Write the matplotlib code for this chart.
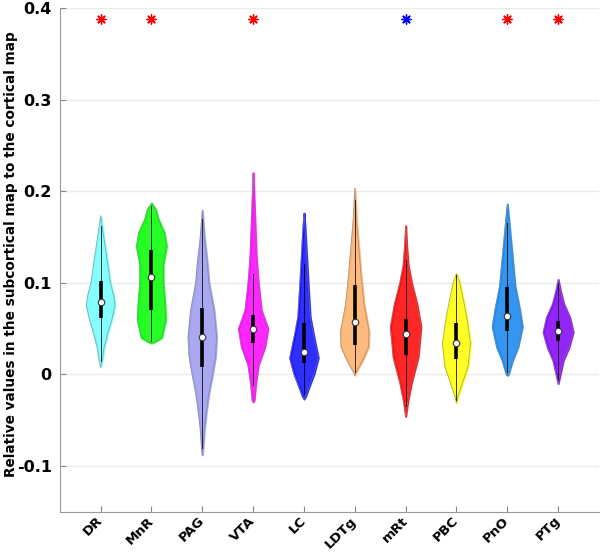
import matplotlib.pyplot as plt
import matplotlib.transforms as mtransforms
import numpy as np

# regions
names = ["DR", "MnR", "PAG", "VTA", "LC", "LDTg", "mRt", "PBC", "PnO", "PTg"]
colors = ["#70ffff", "#00ff00", "#9a9af0", "#ff00ff", "#0a0aff",
          "#ffb066", "#ff0000", "#ffff00", "#0f85f0", "#8000f5"]

# box stats
medians = [0.0785, 0.1065, 0.041, 0.0494, 0.0247, 0.0575, 0.0436, 0.0345, 0.064, 0.047]
q1 = [0.061, 0.070, 0.0076, 0.0345, 0.012, 0.032, 0.021, 0.0163, 0.047, 0.0366]
q3 = [0.102, 0.1355, 0.0727, 0.065, 0.056, 0.097, 0.060, 0.0556, 0.0955, 0.058]
wlo = [0.015, 0.036, -0.080, -0.012, -0.022, 0.002, -0.035, -0.028, 0.002, -0.006]
whi = [0.162, 0.184, 0.170, 0.110, 0.120, 0.190, 0.125, 0.108, 0.165, 0.100]

# violin outlines: value levels and half widths (x units)
dr_y = [0.008, 0.015, 0.03, 0.045, 0.06, 0.075, 0.085, 0.10, 0.12, 0.15, 0.173]
dr_w = [0.0, 0.03, 0.07, 0.14, 0.22, 0.28, 0.26, 0.19, 0.14, 0.06, 0.0]
mnr_y = [0.034, 0.036, 0.04, 0.06, 0.08, 0.10, 0.12, 0.14, 0.155, 0.17, 0.18, 0.187]
mnr_w = [0.0, 0.08, 0.2, 0.28, 0.26, 0.23, 0.23, 0.295, 0.25, 0.13, 0.08, 0.0]
pag_y = [-0.088, -0.08, -0.06, -0.04, -0.02, 0.0, 0.02, 0.041, 0.07, 0.10, 0.12, 0.15, 0.179]
pag_w = [0.0, 0.015, 0.04, 0.08, 0.13, 0.2, 0.26, 0.28, 0.23, 0.13, 0.1, 0.04, 0.0]
vta_y = [-0.03, -0.028, -0.01, 0.01, 0.03, 0.05, 0.07, 0.10, 0.13, 0.16, 0.19, 0.22]
vta_w = [0.0, 0.02, 0.05, 0.1, 0.23, 0.29, 0.16, 0.1, 0.06, 0.04, 0.02, 0.0]
lc_y = [-0.027, -0.024, -0.0135, 0.001, 0.018, 0.045, 0.063, 0.081, 0.10, 0.13, 0.16, 0.176]
lc_w = [0.0, 0.03, 0.1, 0.2, 0.28, 0.18, 0.12, 0.1, 0.08, 0.05, 0.02, 0.0]
ldtg_y = [-0.001, 0.003, 0.015, 0.03, 0.047, 0.077, 0.11, 0.14, 0.17, 0.203]
ldtg_w = [0.0, 0.03, 0.15, 0.27, 0.28, 0.18, 0.12, 0.075, 0.03, 0.0]
mrt_y = [-0.046, -0.03, -0.01, 0.019, 0.052, 0.077, 0.10, 0.119, 0.14, 0.162]
mrt_w = [0.0, 0.04, 0.11, 0.245, 0.30, 0.22, 0.115, 0.05, 0.02, 0.0]
pbc_y = [-0.031, -0.024, -0.009, 0.009, 0.034, 0.063, 0.08, 0.10, 0.11]
pbc_w = [0.0, 0.03, 0.12, 0.23, 0.275, 0.2, 0.14, 0.065, 0.0]
pno_y = [-0.001, 0.0, 0.015, 0.03, 0.052, 0.07, 0.097, 0.13, 0.157, 0.186]
pno_w = [0.0, 0.02, 0.1, 0.21, 0.295, 0.245, 0.15, 0.095, 0.05, 0.0]
ptg_y = [-0.01, 0.0, 0.015, 0.03, 0.046, 0.062, 0.077, 0.09, 0.1036]
ptg_w = [0.0, 0.04, 0.1, 0.215, 0.295, 0.23, 0.11, 0.05, 0.0]
prof_y = [dr_y, mnr_y, pag_y, vta_y, lc_y, ldtg_y, mrt_y, pbc_y, pno_y, ptg_y]
prof_w = [dr_w, mnr_w, pag_w, vta_w, lc_w, ldtg_w, mrt_w, pbc_w, pno_w, ptg_w]

# significance stars
star_col = ["red", "red", None, "red", None, None, "blue", None, "red", "red"]
star_y = 0.388

fig = plt.figure(figsize=(6, 5.52), dpi=100)
ax = fig.add_axes([0.1, 0.073, 0.898, 0.9125])

for i in range(len(names)):
    x = i + 1
    y = np.array(prof_y[i])
    w = np.array(prof_w[i])
    ax.fill_betweenx(y, x - w, x + w, facecolor=colors[i], alpha=0.85,
                     edgecolor=colors[i], linewidth=1.5, zorder=2)
    ax.plot(np.r_[x - w, (x + w)[::-1], x - w[0]], np.r_[y, y[::-1], y[0]],
            color="#888888", lw=0.6, alpha=0.7, zorder=3)
    ax.plot([x, x], [wlo[i], whi[i]], color="black", lw=0.7, alpha=0.8, zorder=4)
    ax.plot([x, x], [q1[i], q3[i]], color="black", lw=2.6, zorder=5,
            solid_capstyle="butt")
    ax.scatter([x], [medians[i]], s=22, facecolor="white", edgecolor="#333333",
               linewidth=0.8, zorder=6)
    if star_col[i]:
        ax.scatter([x], [star_y], marker=(8, 2, 0), s=45, color=star_col[i],
                   linewidth=1.0, zorder=6)

ax.set_xlim(0.2, 10.8)
ax.set_ylim(-0.15, 0.4)
ax.set_yticks([-0.1, 0, 0.1, 0.2, 0.3, 0.4])
ax.set_yticklabels(["-0.1", "0", "0.1", "0.2", "0.3", "0.4"])
ax.set_xticks(range(1, 11))
ax.set_xticklabels(names, rotation=45, ha="right", va="center",
                   rotation_mode="anchor")
for lab in ax.get_yticklabels():
    lab.set_fontweight("bold")
    lab.set_fontsize(11.5)
shift = mtransforms.ScaledTranslation(5 / 100, 0, fig.dpi_scale_trans)
for lab in ax.get_xticklabels():
    lab.set_fontweight("bold")
    lab.set_fontsize(9.6)
    lab.set_transform(lab.get_transform() + shift)

ax.grid(axis="y", color="#ebebeb", lw=1.0, zorder=0)
ax.set_axisbelow(True)
ax.spines["top"].set_visible(False)
ax.spines["right"].set_visible(False)
ax.spines["left"].set_color("#999999")
ax.spines["bottom"].set_color("#999999")
ax.tick_params(direction="in", length=4, color="#888888")
ax.tick_params(axis="y", pad=6)
ax.tick_params(axis="x", pad=5)
ax.set_ylabel("Relative values in the subcortical map to the cortical map",
              fontsize=9.8, fontweight="bold")
ax.yaxis.set_label_coords(-0.078, 0.512)

fig.savefig("out.png", dpi=100)
